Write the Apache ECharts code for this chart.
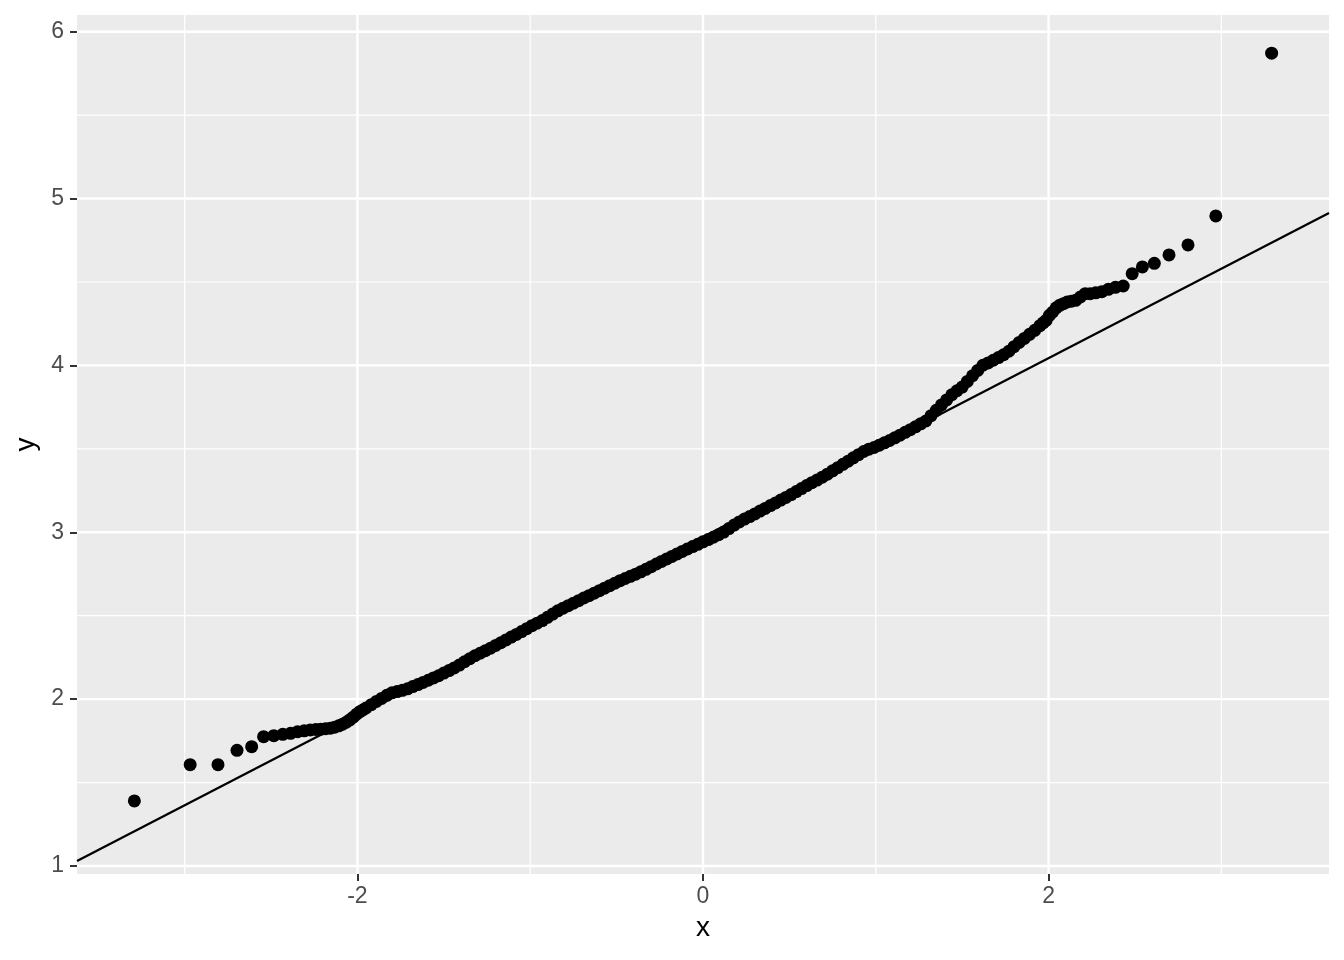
<!DOCTYPE html>
<html><head><meta charset="utf-8">
<script src="https://cdn.jsdelivr.net/npm/echarts@6/dist/echarts.min.js"></script>
<style>html,body{margin:0;padding:0;background:#fff}#c{width:1344px;height:960px}</style>
</head><body><div id="c"></div>
<script>
// Theoretical quantiles (x) and sample quantiles (y)
const leftTailX = [-3.291,-2.968,-2.807,-2.697,-2.612,-2.543,-2.484,-2.432,-2.387,-2.346,-2.308,-2.273,-2.241,-2.212,-2.184,-2.157,-2.132,-2.108,-2.086,-2.064,-2.044,-2.024,-2.005,-1.986,-1.969];
const leftTailY = [1.39,1.607,1.607,1.693,1.715,1.775,1.781,1.789,1.795,1.805,1.81,1.815,1.818,1.82,1.823,1.826,1.832,1.84,1.85,1.862,1.876,1.892,1.91,1.925,1.935];
const middleX = [-1.95,-1.92,-1.89,-1.86,-1.83,-1.80,-1.77,-1.74,-1.71,-1.68,-1.65,-1.62,-1.59,-1.56,-1.53,-1.50,-1.47,-1.44,-1.41,-1.38,-1.35,-1.32,-1.29,-1.26,-1.23,-1.20,-1.17,-1.14,-1.11,-1.08,-1.05,-1.02,-0.99,-0.96,-0.93,-0.90,-0.87,-0.84,-0.81,-0.78,-0.75,-0.72,-0.69,-0.66,-0.63,-0.60,-0.57,-0.54,-0.51,-0.48,-0.45,-0.42,-0.39,-0.36,-0.33,-0.30,-0.27,-0.24,-0.21,-0.18,-0.15,-0.12,-0.09,-0.06,-0.03,0.00,0.03,0.06,0.09,0.12,0.15,0.18,0.21,0.24,0.27,0.30,0.33,0.36,0.39,0.42,0.45,0.48,0.51,0.54,0.57,0.60,0.63,0.66,0.69,0.72,0.75,0.78,0.81,0.84,0.87,0.90,0.93,0.96,0.99,1.02,1.05,1.08,1.11,1.14,1.17,1.20,1.23,1.26,1.29,1.32,1.35,1.38,1.41,1.44,1.47,1.50,1.53,1.56,1.59,1.62,1.65,1.68,1.71,1.74,1.77,1.80,1.83,1.86,1.89,1.92,1.95];
const middleY = [1.947,1.967,1.986,2.004,2.023,2.038,2.045,2.053,2.062,2.075,2.087,2.100,2.113,2.127,2.140,2.156,2.171,2.187,2.204,2.224,2.242,2.260,2.275,2.290,2.305,2.322,2.338,2.355,2.372,2.388,2.405,2.422,2.440,2.455,2.471,2.490,2.510,2.529,2.545,2.560,2.575,2.590,2.606,2.620,2.635,2.650,2.665,2.680,2.695,2.710,2.723,2.736,2.749,2.763,2.778,2.794,2.810,2.825,2.840,2.855,2.870,2.885,2.900,2.914,2.928,2.943,2.956,2.970,2.985,3.001,3.022,3.043,3.062,3.079,3.094,3.110,3.127,3.143,3.160,3.176,3.193,3.209,3.226,3.244,3.262,3.280,3.297,3.313,3.330,3.348,3.368,3.387,3.407,3.426,3.446,3.465,3.484,3.498,3.508,3.522,3.536,3.550,3.566,3.582,3.599,3.615,3.632,3.650,3.667,3.699,3.731,3.763,3.793,3.824,3.848,3.870,3.904,3.938,3.970,4.001,4.015,4.031,4.047,4.064,4.085,4.112,4.138,4.162,4.186,4.210,4.238];
const rightTailX = [1.969,1.986,2.005,2.024,2.044,2.064,2.086,2.108,2.132,2.157,2.184,2.212,2.241,2.273,2.308,2.346,2.387,2.432,2.484,2.543,2.612,2.697,2.807,2.968,3.291];
const rightTailY = [4.255,4.27,4.30,4.32,4.345,4.36,4.37,4.38,4.385,4.39,4.41,4.43,4.43,4.435,4.442,4.456,4.468,4.476,4.55,4.59,4.612,4.662,4.722,4.896,5.871];

// Reference line (through the quartiles)
const lineIntercept = 2.972;
const lineSlope = 0.536;

// Axes
const xRange = [-3.623, 3.623];
const yRange = [0.952, 6.100];
const xTickValues = [-2, 0, 2];
const yTickValues = [1, 2, 3, 4, 5, 6];
const xMinorGrid = [-3, -1, 1, 3];
const yMinorGrid = [1.5, 2.5, 3.5, 4.5, 5.5];

const pts = [];
[[leftTailX,leftTailY],[middleX,middleY],[rightTailX,rightTailY]].forEach(([xs,ys])=>{
  xs.forEach((x,i)=>pts.push([x, ys[i]]));
});

const FONT = "'Liberation Sans', Arial, Helvetica, sans-serif";
const gridSeries = [];
function vline(v, w){ gridSeries.push({type:'line', data:[[v,yRange[0]],[v,yRange[1]]], symbol:'none', silent:true, z:1, lineStyle:{color:'#ffffff', width:w}}); }
function hline(v, w){ gridSeries.push({type:'line', data:[[xRange[0],v],[xRange[1],v]], symbol:'none', silent:true, z:1, lineStyle:{color:'#ffffff', width:w}}); }
xMinorGrid.forEach(v=>vline(v,1.2));
yMinorGrid.forEach(v=>hline(v,1.2));
xTickValues.forEach(v=>vline(v,2.4));
yTickValues.forEach(v=>hline(v,2.4));

const chart = echarts.init(document.getElementById('c'), null, {renderer:'canvas'});
chart.setOption({
  animation:false,
  backgroundColor:'#ffffff',
  grid:{left:77, right:15, top:15, bottom:86, show:true, backgroundColor:'#EBEBEB', borderWidth:0},
  xAxis:{type:'value', min:xRange[0], max:xRange[1],
    name:'x', nameLocation:'middle', nameGap:40,
    nameTextStyle:{color:'#000', fontSize:28, fontFamily:FONT},
    axisLine:{show:false, onZero:false}, splitLine:{show:false},
    axisTick:{show:true, customValues:xTickValues, length:7, lineStyle:{color:'#333333', width:2}},
    axisLabel:{customValues:xTickValues, color:'#4D4D4D', fontSize:23, fontFamily:FONT, margin:11}
  },
  yAxis:{type:'value', min:yRange[0], max:yRange[1],
    name:'y', nameLocation:'middle', nameGap:30, nameRotate:90,
    nameTextStyle:{color:'#000', fontSize:28, fontFamily:FONT},
    axisLine:{show:false, onZero:false}, splitLine:{show:false},
    axisTick:{show:true, customValues:yTickValues, length:7, lineStyle:{color:'#333333', width:2}},
    axisLabel:{customValues:yTickValues, color:'#4D4D4D', fontSize:23, fontFamily:FONT, margin:13}
  },
  series: gridSeries.concat([
    {type:'scatter', data:pts, symbol:'circle', symbolSize:13, itemStyle:{color:'#000000', opacity:1}, z:5, silent:true},
    {type:'line', data:[[xRange[0], lineIntercept + lineSlope*xRange[0]],[xRange[1], lineIntercept + lineSlope*xRange[1]]],
      symbol:'none', silent:true, z:6, lineStyle:{color:'#000000', width:2.3}}
  ])
});
</script></body></html>
